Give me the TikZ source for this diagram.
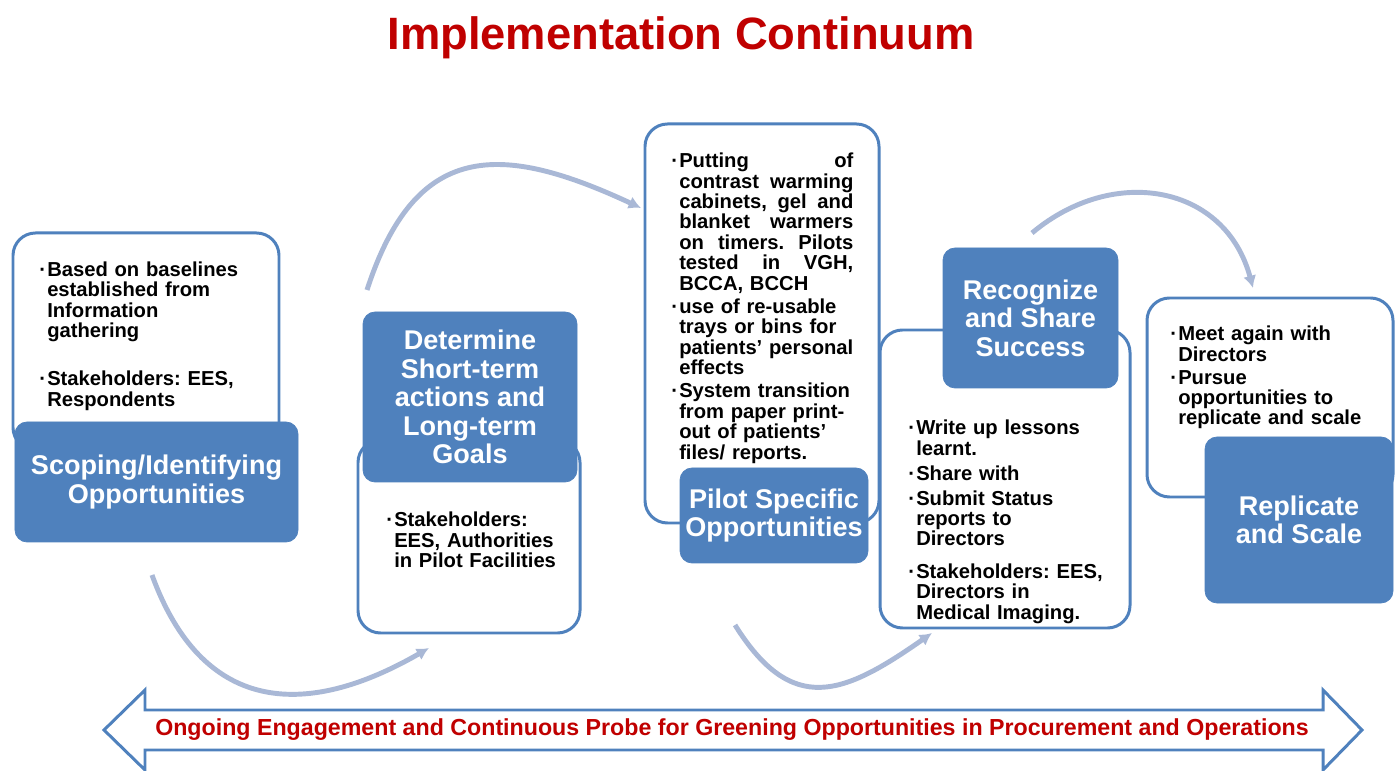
\documentclass[tikz,border=0pt]{standalone}
\usepackage{fontspec}
\setmainfont{Liberation Sans}
\usepackage{tikz}
\usepackage{xcolor}
\usetikzlibrary{positioning, arrows.meta}

\definecolor{boxblue}{HTML}{4F81BD}
\definecolor{arcblue}{HTML}{A9B8D6}
\definecolor{darkred}{HTML}{C00000}

\hyphenpenalty=10000
\frenchspacing
\newlength{\bulw}
\setlength{\bulw}{4.5pt}
\newcommand{\itm}[1][0pt]{\par\vspace{#1}\hangindent=\bulw\hangafter=1\noindent\makebox[\bulw][l]{·}\ignorespaces}
\newcommand{\jline}[1]{\hbox to \dimexpr\hsize-\bulw\relax{\spaceskip=0.28em plus 1fil\relax #1}}
\newcommand{\nextln}{\newline}

\begin{document}
\begin{tikzpicture}[
            x=0.2mm, y=0.2mm,
            frame/.style={draw=boxblue, line width=1.7pt, fill=white, rounded corners=4.5mm, inner sep=0pt},
            stage/.style={fill=boxblue, draw=boxblue, rounded corners=2.4mm, text=white, align=center, inner sep=0pt, font=\fontsize{15.4}{16.2}\selectfont\bfseries},
            note/.style={anchor=north west, inner sep=0pt, align=left, font=\fontsize{11.5}{11.6}\selectfont\bfseries},
            flow/.style={draw=arcblue, line width=2.8pt, -{Latex[length=7pt,width=7.5pt]}},
        ]
            \useasboundingbox (0,0) rectangle (1400,770);

            \node[font=\fontsize{25.8}{30}\selectfont\bfseries, text=darkred, anchor=base] (title) at (681,720) {Implementation Continuum};

            % frames behind the stages
            \node[frame, minimum width=53.2mm, minimum height=43.4mm] (scopingframe) at (146,428.5) {};
            \node[frame, minimum width=44.4mm, minimum height=38.6mm] (determineframe) at (469,233.5) {};
            \node[frame, minimum width=46.8mm, minimum height=79.8mm] (pilotframe) at (762,446.5) {};
            \node[frame, minimum width=50mm, minimum height=59.6mm] (recognizeframe) at (1005,291) {};
            \node[frame, minimum width=49.2mm, minimum height=39.8mm] (replicateframe) at (1270,372.5) {};

            % stages
            \node[stage, minimum width=56.6mm, minimum height=24mm, font=\fontsize{15.4}{17}\selectfont\bfseries] (scoping) at (156.5,288) {Scoping/Identifying\\Opportunities};
            \node[stage, minimum width=42.8mm, minimum height=34mm] (determine) at (470,373) {Determine\\Short-term\\actions and\\Long-term\\Goals};
            \node[stage, minimum width=37.6mm, minimum height=19mm] (pilot) at (774,254.5) {Pilot Specific\\Opportunities};
            \node[stage, minimum width=35mm, minimum height=28mm] (recognize) at (1030.5,452) {Recognize\\and Share\\Success};
            \node[stage, minimum width=37.6mm, minimum height=33.2mm] (replicate) at (1299,250) {Replicate\\and Scale};

            % notes
            \node[note, text width=48mm] (scopingnote) at (39,514.5) {\itm Based on baselines\nextln established from\nextln Information\nextln gathering
                \itm[16pt] Stakeholders: EES,\nextln Respondents\par};
            \node[note, text width=40mm] (determinenote) at (386,264) {\itm Stakeholders:\nextln EES, Authorities\nextln in Pilot Facilities\par};
            \node[note, text width=36.4mm] (pilotnote) at (671,623) {\itm \jline{Putting of}\nextln \jline{contrast warming}\nextln \jline{cabinets, gel and}\nextln \jline{blanket warmers}\nextln \jline{on timers. Pilots}\nextln \jline{tested in VGH,}\nextln BCCA, BCCH
                \itm[1.7pt] use of re-usable\nextln trays or bins for\nextln \mbox{patients' personal}\nextln effects
                \itm[1.7pt] System transition\nextln from paper print-\nextln out of patients'\nextln files/ reports.\par};
            \node[note, text width=40mm] (recognizenote) at (908,356) {\itm Write up lessons\nextln learnt.
                \itm[2.6pt] Share with
                \itm[2.6pt] Submit Status\nextln reports to\nextln Directors
                \itm[7pt] Stakeholders: EES,\nextln Directors in\nextln Medical Imaging.\par};
            \node[note, text width=43mm] (replicatenote) at (1170,450) {\itm Meet again with\nextln Directors
                \itm[1.5pt] Pursue\nextln opportunities to\nextln replicate and scale\par};

            % arcs between the stages
            \coordinate (arcAstart) at (152,195);
            \coordinate (arcAend) at (429,122);
            \coordinate (arcBstart) at (367,480);
            \coordinate (arcBend) at (641,562);
            \coordinate (arcCstart) at (735,145);
            \coordinate (arcCend) at (932,137);
            \coordinate (arcDstart) at (1032,537);
            \coordinate (arcDend) at (1253,482);
            \draw[flow] (arcAstart) to[out=-70, in=210, looseness=1.3] (arcAend);
            \draw[flow] (arcBstart) to[out=72, in=155, looseness=1.4] (arcBend);
            \draw[flow] (arcCstart) to[out=-58, in=215, looseness=1.4] (arcCend);
            \draw[flow] (arcDstart) to[out=40, in=105, looseness=1.2] (arcDend);

            % ongoing engagement band
            \draw[draw=boxblue, line width=1.7pt, fill=white] (104,40) -- (145,80) -- (145,60) -- (1323,60) -- (1323,80) -- (1362,40)
                -- (1323,0) -- (1323,20) -- (145,20) -- (145,0) -- cycle;
            \node[font=\fontsize{13.2}{15}\selectfont\bfseries, text=darkred] (ongoing) at (732,40) {Ongoing Engagement and Continuous Probe for Greening Opportunities in Procurement and Operations};
        \end{tikzpicture}
\end{document}
